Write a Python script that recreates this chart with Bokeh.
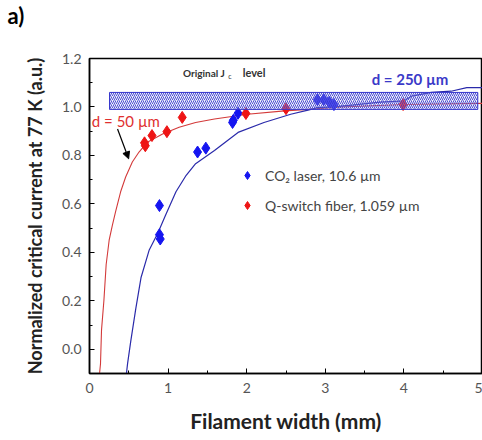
from bokeh.plotting import figure
from bokeh.models import (Range1d, FixedTicker, PrintfTickFormatter, Label, Arrow,
                          NormalHead, Legend, LegendItem, ColumnDataSource)
from bokeh.embed import file_html
from bokeh.resources import INLINE

# ---- data ----
co2_x = [0.89, 0.89, 0.90, 1.375, 1.48, 1.82, 1.83, 1.89, 2.90, 2.98, 3.05, 3.11]
co2_y = [0.593, 0.473, 0.455, 0.814, 0.83, 0.936, 0.945, 0.974, 1.03, 1.03, 1.02, 1.01]

fiber_x = [0.70, 0.71, 0.795, 0.985, 1.18, 1.99, 2.50, 3.99]
fiber_y = [0.852, 0.84, 0.882, 0.898, 0.957, 0.973, 0.993, 1.01]

co2_fit_x = [0.47, 0.484, 0.526, 0.59, 0.655, 0.76, 0.87, 0.97, 1.10, 1.23, 1.35, 1.59,
             1.89, 2.22, 2.56, 2.78, 2.90, 3.10, 3.40, 3.70, 4.00, 4.10, 4.35, 4.60, 4.80, 5.00]
co2_fit_y = [-0.10, -0.06, 0.036, 0.17, 0.295, 0.41, 0.48, 0.555, 0.65, 0.718, 0.766, 0.82,
             0.895, 0.936, 0.97, 0.987, 0.997, 1.00, 1.01, 1.02, 1.025, 1.045, 1.06, 1.065, 1.08, 1.08]

fiber_fit_x = [0.128, 0.14, 0.153, 0.183, 0.212, 0.25, 0.29, 0.332, 0.396, 0.46, 0.545, 0.63,
               0.735, 0.93, 1.14, 1.35, 1.59, 2.01, 2.48, 2.78, 3.20, 4.00, 5.00]
fiber_fit_y = [-0.10, -0.06, 0.08, 0.20, 0.35, 0.45, 0.51, 0.568, 0.65, 0.711, 0.773, 0.814,
               0.854, 0.888, 0.916, 0.936, 0.95, 0.97, 0.984, 0.99, 1.00, 1.01, 1.015]

band_x = [0.255, 4.94]      # original Jc level band (x extent)
band_y = [0.99, 1.06]       # (y extent)

x_ticks = [0, 1, 2, 3, 4, 5]
y_ticks = [0.0, 0.2, 0.4, 0.6, 0.8, 1.0, 1.2]

FONT = "Lato"

p = figure(width=482, height=440, output_backend="svg", toolbar_location=None,
           x_range=Range1d(0, 5), y_range=Range1d(-0.1, 1.2),
           min_border_left=89, min_border_right=0, min_border_top=55, min_border_bottom=67)
p.xgrid.visible = False
p.ygrid.visible = False
p.outline_line_color = "black"
p.outline_line_width = 1.5

p.title.text = "a)\n "
p.title.align = "left"
p.title.vertical_align = "top"
p.title.offset = -82
p.title.text_font = FONT
p.title.text_font_size = "22px"
p.title.text_font_style = "bold"
p.title.text_color = "black"
p.title.standoff = 2

# fits
p.line(fiber_fit_x, fiber_fit_y, line_color="#d33a3a", line_width=1.1)
p.line(co2_fit_x, co2_fit_y, line_color="#2a2aaa", line_width=1.2)

# points
r_co2 = p.scatter(co2_x, co2_y, marker="diamond", size=12, fill_color="#1515f0",
                  line_color="#1515f0")
r_fib = p.scatter(fiber_x, fiber_y, marker="diamond", size=12, fill_color="#ee1515",
                  line_color="#ee1515")

# hatched band
band = ColumnDataSource(dict(left=[band_x[0]], right=[band_x[1]],
                             bottom=[band_y[0]], top=[band_y[1]]))
p.quad(left="left", right="right", bottom="bottom", top="top", source=band,
       fill_color="#c8ccf0", fill_alpha=0.3, line_color="#3333cc", line_width=1,
       hatch_pattern="/", hatch_color="#3333cc", hatch_scale=4, hatch_weight=1, hatch_alpha=0.85)

# axes
for ax in (p.xaxis[0], p.yaxis[0]):
    ax.axis_line_width = 1.5
    ax.major_tick_in = 5
    ax.major_tick_out = 0
    ax.minor_tick_in = 3
    ax.minor_tick_out = 0
    ax.major_label_text_font = FONT
    ax.major_label_text_font_size = "14px"
    ax.major_label_text_color = "#555555"
    ax.axis_label_text_font = FONT
    ax.axis_label_text_font_style = "bold"
    ax.axis_label_text_color = "#222222"

p.xaxis.axis_label_text_font_size = "21px"
p.yaxis.axis_label_text_font_size = "18px"
p.xaxis.ticker = FixedTicker(ticks=x_ticks, minor_ticks=[0.5, 1.5, 2.5, 3.5, 4.5])
p.yaxis.ticker = FixedTicker(ticks=y_ticks, minor_ticks=[-0.1, 0.1, 0.3, 0.5, 0.7, 0.9, 1.1])
p.yaxis.formatter = PrintfTickFormatter(format="%.1f")
p.xaxis.axis_label = "Filament width (mm)"
p.yaxis.axis_label = "Normalized critical current at 77 K (a.u.)"
p.xaxis.major_label_standoff = 9
p.xaxis.axis_label_standoff = 12
p.yaxis.major_label_standoff = 8
p.yaxis.axis_label_standoff = 13

# annotations
p.add_layout(Label(x=0.03, y=0.944, text="d = 50 µm", text_font=FONT, text_font_size="15px",
                   text_color="#e03030", text_baseline="middle"))
p.add_layout(Label(x=3.59, y=1.116, text="d = 250 µm", text_font=FONT, text_font_size="15px",
                   text_font_style="bold", text_color="#3a3ac8", text_baseline="middle"))
p.add_layout(Label(x=1.19, y=1.141, text="Original J", text_font=FONT, text_font_size="10px",
                   text_font_style="bold", text_color="#333333", text_baseline="middle"))
p.add_layout(Label(x=1.765, y=1.127, text="c", text_font=FONT, text_font_size="7px",
                   text_color="#333333", text_baseline="middle"))
p.add_layout(Label(x=1.95, y=1.141, text="level", text_font=FONT, text_font_size="11px",
                   text_font_style="bold", text_color="#333333", text_baseline="middle"))
p.add_layout(Arrow(x_start=0.357, y_start=0.909, x_end=0.498, y_end=0.786,
                   line_color="black", line_width=1.2,
                   end=NormalHead(size=7, fill_color="black", line_color="black")))

legend = Legend(items=[LegendItem(label="CO₂ laser, 10.6 µm", renderers=[r_co2]),
                       LegendItem(label="Q-switch fiber, 1.059 µm", renderers=[r_fib])],
                location=(138, 148), border_line_alpha=0, background_fill_alpha=0,
                glyph_width=20, glyph_height=20, label_height=20, spacing=10, padding=10,
                margin=0, label_standoff=8, label_text_font=FONT, label_text_font_size="14px",
                label_text_color="#444444")
p.add_layout(legend)

open("out.html", "w").write(file_html(p, INLINE))
